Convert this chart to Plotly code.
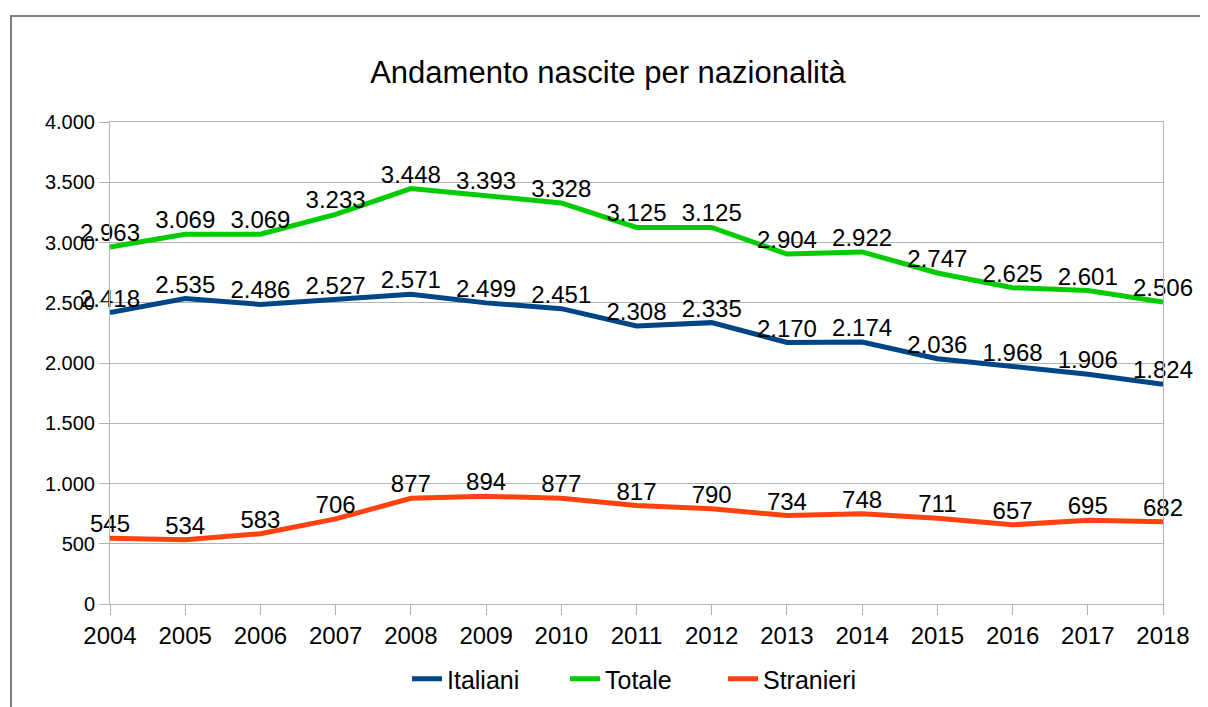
import plotly.graph_objects as go

anni = [str(a) for a in range(2004, 2019)]
italiani = [2418, 2535, 2486, 2527, 2571, 2499, 2451, 2308, 2335, 2170, 2174, 2036, 1968, 1906, 1824]
totale = [2963, 3069, 3069, 3233, 3448, 3393, 3328, 3125, 3125, 2904, 2922, 2747, 2625, 2601, 2506]
stranieri = [545, 534, 583, 706, 877, 894, 877, 817, 790, 734, 748, 711, 657, 695, 682]

serie = [
    ("Italiani", italiani, "#004586"),
    ("Totale", totale, "#00cc00"),
    ("Stranieri", stranieri, "#ff420e"),
]

fig = go.Figure()
for nome, valori, colore in serie:
    fig.add_trace(go.Scatter(
        x=anni, y=valori, name=nome, mode="lines+text",
        line=dict(color=colore, width=5),
        text=[f"{v:,}".replace(",", ".") for v in valori],
        textposition="top center",
        textfont=dict(size=24, color="black"),
        cliponaxis=False,
    ))

# the page adds an 8px body margin, so the figure is 8px smaller and margins shifted
fig.update_layout(
    width=1200, height=699,
    margin=dict(l=102, r=45, t=114, b=103),
    paper_bgcolor="white", plot_bgcolor="white",
    font=dict(family="Liberation Sans, Arial, sans-serif", color="black"),
    separators=",.",
    title=dict(text="Andamento nascite per nazionalità", x=0.5, xanchor="center",
               y=1 - 64 / 699, yanchor="middle", font=dict(size=31)),
    showlegend=True,
    legend=dict(orientation="h", x=0.53, xanchor="center", xref="container",
                y=(699 - 671) / 699, yanchor="middle", yref="container",
                font=dict(size=25), entrywidth=113),
    shapes=[dict(type="rect", xref="paper", yref="paper",
                 x0=-0.094, x1=1.2, y0=-0.5, y1=(604 - 16) / 482,
                 line=dict(color="#7f7f7f", width=2), layer="below")],
)
fig.update_xaxes(
    type="category", range=[0, 14], showgrid=False, automargin=False,
    showline=True, linecolor="#b3b3b3", linewidth=1, mirror=True,
    ticks="outside", ticklen=10, tickcolor="#b3b3b3",
    tickfont=dict(size=24), zeroline=False,
)
fig.update_yaxes(
    range=[0, 4000], dtick=500, tickformat=",d", automargin=False,
    showgrid=True, gridcolor="#b3b3b3", gridwidth=1,
    showline=True, linecolor="#b3b3b3", linewidth=1, mirror=True,
    ticks="outside", ticklen=10, tickcolor="#b3b3b3",
    tickfont=dict(size=20), zeroline=False,
)

fig.write_html("out.html")
